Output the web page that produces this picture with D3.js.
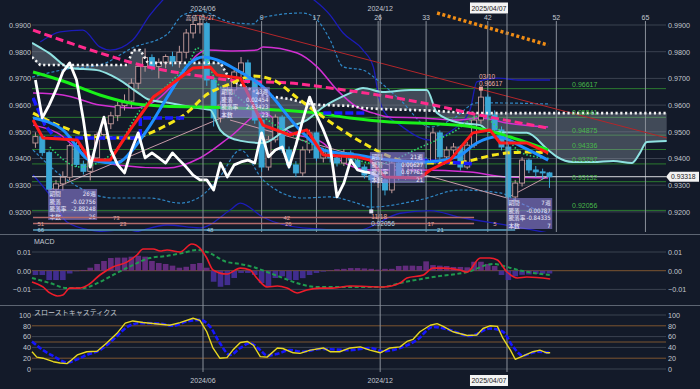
<!DOCTYPE html>
<html>
<head>
<meta charset="utf-8">
<script src="https://cdn.jsdelivr.net/npm/d3@7"></script>
<style>
  html, body { margin: 0; padding: 0; background: #131a29; }
  svg { display: block; font-family: "Noto Sans CJK JP", "DejaVu Sans", sans-serif; }
</style>
</head>
<body>
<svg id="chart" width="700" height="389"></svg>
<script>
// ---- weekly candles (index 0 = first visible week) ----
const opens  = [0.9458,0.9482,0.9422,0.9285,0.9305,0.9330,0.9448,0.9378,0.9352,0.9402,
                0.9490,0.9530,0.9560,0.9598,0.9615,0.9682,0.9745,0.9778,0.9745,0.9760,
                0.9782,0.9762,0.9798,0.9870,0.9902,0.9905,0.9694,0.9552,0.9600,0.9657,
                0.9724,0.9758,0.9694,0.9544,0.9368,0.9470,0.9555,0.9432,0.9376,0.9346,
                0.9432,0.9496,0.9402,0.9421,0.9402,0.9383,0.9421,0.9394,0.9368,0.9338,
                0.9320,0.9320,0.9282,0.9383,0.9331,0.9376,0.9387,0.9394,0.9383,0.9496,
                0.9406,0.9432,0.9443,0.9368,0.9450,0.9544,0.9630,0.9563,0.9507,0.9443,
                0.9256,0.9308,0.9394,0.9357,0.9350,0.9346];
const highs  = [0.9498,0.9490,0.9430,0.9320,0.9352,0.9455,0.9462,0.9392,0.9412,0.9498,
                0.9545,0.9575,0.9612,0.9640,0.9700,0.9758,0.9812,0.9790,0.9775,0.9790,
                0.9800,0.9822,0.9885,0.9915,0.9928,0.9912,0.9705,0.9615,0.9672,0.9740,
                0.9780,0.9770,0.9705,0.9560,0.9485,0.9565,0.9562,0.9445,0.9390,0.9445,
                0.9508,0.9502,0.9440,0.9438,0.9415,0.9435,0.9430,0.9405,0.9378,0.9350,
                0.9345,0.9330,0.9395,0.9392,0.9388,0.9402,0.9410,0.9405,0.9515,0.9505,
                0.9445,0.9458,0.9450,0.9462,0.9560,0.96617,0.9640,0.9580,0.9520,0.9455,
                0.9320,0.9405,0.9400,0.9372,0.9362,0.9350];
const lows   = [0.9440,0.9410,0.9270,0.9262,0.9280,0.9318,0.9368,0.9340,0.9318,0.9390,
                0.9470,0.9510,0.9540,0.9580,0.9590,0.9660,0.9725,0.9730,0.9700,0.9738,
                0.9745,0.9740,0.9775,0.9850,0.9868,0.9672,0.9520,0.9535,0.9585,0.9640,
                0.9705,0.9680,0.9530,0.9350,0.9355,0.9460,0.9420,0.9360,0.9330,0.9335,
                0.9420,0.9390,0.9385,0.9385,0.9370,0.9372,0.9380,0.9355,0.9325,0.92056,
                0.9290,0.9262,0.9270,0.9318,0.9320,0.9360,0.9372,0.9365,0.9378,0.9395,
                0.9392,0.9415,0.9355,0.9360,0.9440,0.9530,0.9548,0.9495,0.9430,0.9228,
                0.9240,0.9295,0.9345,0.9330,0.9322,0.9290];
const closes = [0.9482,0.9422,0.9285,0.9305,0.9330,0.9448,0.9378,0.9352,0.9402,0.9490,
                0.9530,0.9560,0.9598,0.9615,0.9682,0.9745,0.9778,0.9745,0.9760,0.9782,
                0.9762,0.9798,0.9870,0.9902,0.9905,0.9694,0.9552,0.9600,0.9657,0.9724,
                0.9758,0.9694,0.9544,0.9368,0.9470,0.9555,0.9432,0.9376,0.9346,0.9432,
                0.9496,0.9402,0.9421,0.9402,0.9383,0.9421,0.9394,0.9368,0.9338,0.9320,
                0.9320,0.9282,0.9383,0.9331,0.9376,0.9387,0.9394,0.9383,0.9496,0.9406,
                0.9432,0.9443,0.9368,0.9450,0.9544,0.9630,0.9563,0.9507,0.9443,0.9256,
                0.9308,0.9394,0.9357,0.9350,0.9346,0.93318];
const lagShift = 25;   // lagging span: close plotted 25 weeks back
const lastPrice = 0.93318;

// ---- indicator lines, [week index, value] ----
const greenMA  = [[-0.35,0.9724],[3.6,0.9694],[9.4,0.9638],[13.8,0.9608],[18.2,0.9597],[24,0.9593],[32.8,0.9585],
                  [41.1,0.957],[45.9,0.9552],[51.7,0.9537],[59,0.9529],[63.8,0.9518],[68.8,0.9484],[74.8,0.9432]];
const pinkMA   = [[-0.35,0.9881],[11.3,0.978],[15.3,0.975],[24,0.9709],[29.9,0.969],[37.1,0.9683],[43,0.9664],
                  [56.6,0.9608],[63.4,0.957],[74.8,0.9514]];
const yellowMA = [[-0.35,0.957],[4,0.9518],[9,0.9481],[13.8,0.9477],[18.6,0.9518],[22.6,0.9582],[24.5,0.963],
                  [28.4,0.9679],[31.8,0.9709],[34.7,0.9694],[38.2,0.9627],[42,0.9555],[47.8,0.9458],[53.2,0.9394],
                  [56.6,0.9383],[61.5,0.9383],[63.8,0.9394],[66.8,0.9413],[71.7,0.9424],[74.8,0.9421]];
const redLine  = [[-0.35,0.9544],[1.1,0.9477],[6.1,0.9469],[8,0.9394],[10.9,0.9394],[13.8,0.9507],[17.2,0.963],
                  [20.1,0.9683],[23,0.9739],[25.5,0.9743],[26.5,0.9713],[29.9,0.9701],[33.2,0.9525],[37.1,0.9488],
                  [39.6,0.9507],[42,0.9413],[46.9,0.9406],[48.8,0.9394],[51,0.9331],[56.1,0.9327],[57.6,0.9357],
                  [60.5,0.9394],[63.8,0.9496],[66.3,0.9507],[67.8,0.9458],[71.7,0.9458],[74.8,0.9421]];
const blueLine = [[-0.35,0.9552],[4,0.9507],[8,0.9394],[11.9,0.9383],[13.8,0.9421],[16.3,0.9507],[19.6,0.9645],
                  [22.6,0.9758],[24.5,0.978],[26.5,0.9769],[29.4,0.9731],[33.2,0.9668],[38.6,0.9507],[42,0.9432],
                  [46.9,0.9413],[51.7,0.9394],[56.6,0.9387],[61.5,0.9406],[64.4,0.9458],[67.4,0.9481],[71.1,0.9443],
                  [74.8,0.9394]];
const baseLine = [[-0.35,0.9627],[1.4,0.9525],[2.9,0.9477],[15.3,0.9477],[15.3,0.9552],[22.1,0.9552],[22.2,null],
                  [42,0.957],[48.4,0.957],[48.5,null],[56.1,0.9394],[63.8,0.9380]];
const magUpper = [[-0.35,0.9645],[4,0.9638],[9.4,0.96],[14.2,0.9589],[17.7,0.9619],[20.7,0.9694],[23.6,0.9788],
                  [25,0.9806],[28.8,0.9803],[32.3,0.9806],[33.2,0.9818],[38.2,0.9795],[41.1,0.9743],[44,0.9657],
                  [46.9,0.9593],[49.3,0.957],[51.7,0.9555],[56.6,0.9552],[61.5,0.9544],[64.9,0.9552],[68.8,0.9533],
                  [74.8,0.9518]];
const magLower = [[-0.35,0.9525],[3.2,0.9496],[6.9,0.9421],[11.9,0.9376],[19.2,0.9364],[24,0.9402],[28.4,0.9481],
                  [33.2,0.957],[37.1,0.9499],[42,0.9458],[44.4,0.9394],[48.8,0.9357],[56.1,0.9357],[63.4,0.9349],
                  [68.8,0.9331],[74.8,0.9327]];
const band2Up  = [[0.7,0.9836],[3.6,0.9874],[6.9,0.9881],[9.4,0.9818],[10.9,0.9806],[14.2,0.9844],[16.7,0.9937],
                  [22.6,1.0069],[31.3,1.0106],[38.6,1.0031],[43,0.9937],[44.9,0.987],[47.8,0.9806],[49.3,0.9743],
                  [50,0.9645],[50.7,0.9582],[53.2,0.9525],[57.6,0.9469],[60.5,0.95],[63.4,0.9582],[64.4,0.9687],
                  [67.4,0.9701],[70.7,0.9694],[75.1,0.9694]];
const band2Low = [[-0.35,0.9338],[2.1,0.9263],[4.6,0.9162],[8,0.9132],[13.4,0.9121],[19.2,0.9151],[24,0.914],
                  [28.4,0.9207],[29.9,0.9233],[33.2,0.918],[39,0.914],[46.9,0.913],[53.2,0.9195],[57.6,0.9205],
                  [61.9,0.918],[68.8,0.915],[75.1,0.912]];
const band1Up  = [[-0.5,0.9705],[4.6,0.9735],[9.4,0.975],[14.2,0.9815],[19.2,0.9865],[21.5,0.9937],[24,0.9952],
                  [28.4,0.9911],[31.8,0.9904],[32.8,0.9926],[39,0.9945],[41.1,0.9919],[43,0.9844],[44.9,0.9743],
                  [47.8,0.9731],[49.9,0.9694],[53.2,0.962],[57.6,0.9518],[61,0.955],[64.4,0.9608],[67.4,0.9608],
                  [75.1,0.9604]];
const band1Low = [[-0.35,0.9432],[4.6,0.932],[11.3,0.9252],[16.7,0.9252],[21.1,0.9233],[24,0.9256],[26.9,0.9331],
                  [29.9,0.9432],[33.2,0.932],[39,0.9252],[43,0.9256],[46.9,0.9233],[48.8,0.9218],[56.1,0.9245],
                  [61.9,0.9282],[67.8,0.9271],[71,0.9230],[75.1,0.9190]];
const greenDots = [[2.1,0.9443],[6.5,0.9368],[11.3,0.9421],[15.3,0.9582],[19.6,0.9683],[22.6,0.9769],[23.6,0.9814],
                   [24.5,0.9795],[26.5,0.9683],[29,0.9640],[33,0.9560],[38,0.9480],[44,0.9420],[50,0.9380],
                   [56,0.9440],[61,0.9500],[65,0.9560],[68,0.9500],[71,0.9420],[75,0.9400]];

// ---- cloud: upper span (cyan) and lower span (white dotted) ----
const cloudIdx = [-0.5,0.7,2,5,9,11,13.4,14.2,15.3,16.4,19.6,22.6,25.5,27,28.4,30,33.2,37.1,39.6,42,45.9,47.8,
                  50.7,54.7,57.1,58.6,61.9,64.9,66.3,71.7,74.8,76.1,78.4,81.4,84.3,87,88.2,89.2,92.1];
const spanA    = [0.9833,0.9815,0.9795,0.9739,0.9731,0.9712,0.9675,0.966,0.964,0.9622,0.9608,0.9593,0.9582,0.9505,
                  0.9478,0.9466,0.9458,0.9518,0.9544,0.9593,0.9645,0.9664,0.9649,0.9657,0.9657,0.957,0.9533,0.9525,
                  0.9499,0.9496,0.9432,0.9406,0.9387,0.9387,0.9391,0.9383,0.9421,0.9462,0.9466];
const spanB    = [0.978,0.975,0.975,0.975,0.975,0.975,0.975,0.9806,0.9806,0.9758,0.9758,0.9758,0.9758,0.9758,
                  0.9694,0.9675,0.9636,0.9623,0.9605,0.96,0.9597,0.9589,0.9585,0.9582,0.958,0.9578,0.9572,0.957,
                  0.957,0.957,0.957,0.957,0.957,0.957,0.957,0.957,0.957,0.957,0.957];

// ---- levels, counts, dates ----
const fibLevels  = [0.96617,0.95541,0.94875,0.94336,0.93797,0.93132,0.92056];
const priceTicks = [0.99,0.98,0.97,0.96,0.95,0.94,0.93,0.92];
const countIdx   = [33,41,50,57,66,76,89];
const countText  = ["9","17","26","33","42","52","65"];
const dateIdx    = [24.45,50.3,68.8];
const dateText   = ["2024/06","2024/12","2025/04/07"];
const trendRed   = [[23.6,0.9937],[92.1,0.9477]];
const trendOrange= [[58.6,0.9945],[74.8,0.9825]];
const rangeLines = [[[2.1,0.9282],[27.4,0.9555]],[[28.4,0.9544],[68.8,0.9252]],[[68.8,0.9252],[75.1,0.9338]]];

// measurement boxes: [from idx, to idx, top price], rows of label/value
const boxSpan = [[1.85,9.0,0.9286],[26.9,34.2,0.9668],[48.8,56.8,0.9424],[68.8,75.4,0.9252]];
const boxRows = [
  [["期間","26週"],["騰落","-0.02756"],["騰落率","-2.88248"],["本数","26"]],
  [["期間","23週"],["騰落","0.02454"],["騰落率","2.63423"],["本数","23"]],
  [["期間","21週"],["騰落","0.00627"],["騰落率","0.67761"],["本数","21"]],
  [["期間","7週"],["騰落","-0.00787"],["騰落率","-0.84335"],["本数","7"]]
];

// bottom range bars: [from idx, to idx, row], labels [idx, row, text]
const rangeBars   = [[-0.35,64,0],[-0.35,64,1],[-0.35,70,2]];
const rangeLabels = [[0.3,1,"51"],[11.3,0,"73"],[12.3,1,"23"],[36.2,0,"42"],[36.4,1,"26"],[57.2,1,"17"],
                     [0.3,2,"66"],[25,2,"48"],[58.6,2,"21"],[66.8,1,"5"]];

// ---- MACD ----
const macdLine = [[-0.5,-0.006],[1.1,-0.0087],[2.1,-0.0119],[3.2,-0.0135],[4,-0.013],[5,-0.0093],[6.5,-0.0093],
                  [7.7,-0.0076],[9.4,-0.0023],[11.3,0.002],[13.4,0.0047],[14.8,0.0084],[15.7,0.0116],[17.2,0.0116],
                  [18.2,0.0105],[19.2,0.0111],[21.1,0.01],[22.8,0.0143],[24,0.0121],[25,0.0068],[25.9,0.0004],
                  [27.9,-0.0018],[29.9,0.0014],[31.3,0.0004],[32.3,-0.0039],[33.8,-0.0087],[35.3,-0.0082],
                  [36.7,-0.0093],[38.2,-0.0119],[39.6,-0.0103],[41.5,-0.0093],[43.4,-0.0093],[45.9,-0.0082],
                  [50.7,-0.0087],[53.2,-0.0066],[54.2,-0.0039],[56.6,-0.0023],[58,0.0014],[59.5,0.0014],
                  [61.9,0.0004],[63,-0.0007],[64.9,0.0068],[66.3,0.0068],[67.4,0.0057],[68.8,-0.0007],
                  [70.3,-0.0039],[71.7,-0.0034],[75.1,-0.0044]];
const signalLine = [[-0.5,-0.0039],[2.1,-0.0066],[4.6,-0.0093],[6.9,-0.0093],[9.4,-0.006],[11.9,-0.0012],
                  [14.2,0.003],[16.7,0.0068],[19.2,0.0079],[21.5,0.0095],[23.6,0.0111],[25,0.01],[27.9,0.0047],
                  [29.9,0.0036],[31.7,0.002],[33.8,-0.0007],[36.1,-0.0039],[38.6,-0.0071],[41.1,-0.0087],
                  [45.9,-0.0087],[50.7,-0.0087],[53.2,-0.0066],[58,-0.0034],[63,-0.0007],[66.8,0.0036],
                  [68.8,0.002],[71.1,-0.0002],[75.1,-0.0023]];
const macdHist = [-0.0023,-0.0023,-0.0050,-0.0050,-0.0050,-0.0015,-0.0003,0.0004,0.0016,0.0036,
                  0.0052,0.0068,0.0070,0.0070,0.0075,0.0080,0.0075,0.0052,0.0041,0.0036,
                  0.0027,0.0016,0.0021,0.0036,0.0041,0.0016,-0.0059,-0.0086,-0.0077,-0.0039,
                  -0.0012,-0.0012,-0.0023,-0.0066,-0.0087,-0.0039,-0.0030,-0.0050,-0.0050,-0.0040,
                  -0.0023,-0.0012,-0.0005,0.0003,0.0008,0.0010,0.0014,0.0014,0.0012,0.0010,
                  0.0006,0.0010,0.0010,0.0025,0.0027,0.0027,0.0025,0.0050,0.0030,0.0027,
                  0.0025,0.0020,0.0020,0.0018,0.0048,0.0048,0.0036,0.0025,-0.0023,-0.0050,
                  -0.0030,-0.0022,-0.0020,-0.0018,-0.0016,-0.0015];
const macdTicks = [0.01,0,-0.01];

// ---- slow stochastics ----
const stochK = [[-0.5,32],[0.2,22],[1.1,20],[2.6,13.5],[3.6,11],[4.6,10],[5.3,17],[6.1,26],[7.5,32],[9,33],
                [10.4,48],[11.9,66],[13.1,85],[14.2,89],[15.7,86],[18.2,83],[19.6,81],[21.1,86],[23,94],[24,90],
                [25,69],[25.9,39],[26.9,20],[27.95,21],[28.8,35],[29.9,49],[30.9,51],[31.8,44],[32.8,23],
                [33.8,22],[35.3,39],[36.1,38],[37.6,30],[38.6,29],[40.1,35],[42,39],[43,32],[44.4,32],[45.9,39],
                [47.4,41],[48.8,35],[50.3,30],[51.7,39],[53.2,41],[54.2,51],[55.1,55],[56.1,69],[57.6,81],
                [58.6,84],[59.5,79],[60.9,69],[63,62],[64.4,63],[65.3,75],[66.3,80],[67.4,79],[68.2,57],
                [69.3,35],[70,18],[71.1,24],[72.6,32],[73.6,35],[74.6,30],[75.1,30]];
const stochD = [[-0.5,51],[1.1,35],[2.6,24],[4.6,12],[6.1,18],[7.5,26],[9.4,35],[11.3,54],[13.4,78],[15.3,85],
                [18.2,84],[20.1,80],[22.1,88],[24,91],[25.5,78],[26.9,48],[28.4,26],[29.9,39],[31.3,48],
                [32.8,35],[33.8,25],[35.3,28],[37.1,35],[39,32],[41.5,37],[45.9,35],[48.8,39],[50.7,33],
                [53.2,39],[55.7,54],[58,78],[60.5,72],[63.4,61],[66.3,75],[68.2,69],[69.7,41],[71.1,25],
                [73.2,32],[75.1,30]];
const stochTicks = [100,80,60,40,20,0];

// ---- scales ----
const W = 700, left = 32, right = 666;
const x  = d3.scaleLinear().domain([-0.5, 92]).range([left, right]);
const y  = d3.scaleLinear().domain([0.92, 0.99]).range([211.9, 25]);
const yM = d3.scaleLinear().domain([-0.01, 0.01]).range([289.4, 252]);
const yS = d3.scaleLinear().domain([0, 100]).range([369, 315]);

const svg = d3.select('#chart');
const grid = '#3b4250', txt = '#c2c8d0', brown = '#7d5530';
const numFont = '"Liberation Sans", Arial, sans-serif';
const narrowFont = '"Liberation Sans Narrow", "DejaVu Sans Condensed", sans-serif';

svg.append('rect').attr('width', W).attr('height', 389).attr('fill', '#131a29');

const defs = svg.append('defs');
defs.append('clipPath').attr('id', 'mainClip').append('rect')
    .attr('x', left).attr('y', 0).attr('width', right - left + 2).attr('height', 232);

// ---- axes ----
function sideAxes(scale, ticks, fmt) {
    svg.append('g').attr('transform', `translate(${left - 1},0)`)
        .call(d3.axisLeft(scale).tickValues(ticks).tickSize(0).tickPadding(0).tickFormat(fmt))
        .call(g => g.select('.domain').remove());
    svg.append('g').attr('transform', `translate(${right + 2},0)`)
        .call(d3.axisRight(scale).tickValues(ticks).tickSize(0).tickPadding(0).tickFormat(fmt))
        .call(g => g.select('.domain').remove());
}
sideAxes(y, priceTicks, d3.format('.4f'));
sideAxes(yM, macdTicks, d3.format('.2f'));
sideAxes(yS, stochTicks, d3.format('d'));
svg.selectAll('.tick text').attr('fill', txt).attr('font-size', 7.2).attr('font-family', numFont);

// ---- grid lines ----
svg.append('g').selectAll('line').data(priceTicks).join('line')
    .attr('x1', left).attr('x2', right).attr('y1', d => y(d)).attr('y2', d => y(d))
    .attr('stroke', grid).attr('stroke-width', 1);
svg.append('g').selectAll('line').data(macdTicks).join('line')
    .attr('x1', left).attr('x2', right).attr('y1', d => yM(d)).attr('y2', d => yM(d))
    .attr('stroke', d => d === 0 ? brown : grid).attr('stroke-width', 1);
svg.append('g').selectAll('line').data(stochTicks).join('line')
    .attr('x1', left).attr('x2', right).attr('y1', d => yS(d)).attr('y2', d => yS(d))
    .attr('stroke', d => (d === 80 || d === 20) ? brown : grid).attr('stroke-width', 1);
svg.append('line').attr('x1', left).attr('x2', right).attr('y1', yS(50)).attr('y2', yS(50))
    .attr('stroke', brown).attr('stroke-width', 1);

// panel separators
[234.5, 305.5].forEach(v => svg.append('line').attr('x1', 0).attr('x2', W).attr('y1', v).attr('y2', v)
    .attr('stroke', '#5d6572').attr('stroke-width', 1.2));

// ---- main panel ----
const main = svg.append('g').attr('clip-path', 'url(#mainClip)');
const line = (ys, curve) => d3.line().defined(d => d[1] != null)
    .x(d => x(d[0])).y(d => ys(d[1])).curve(curve || d3.curveMonotoneX);

function path(g, data, ys, color, width, dash, curve) {
    return g.append('path').datum(data).attr('d', line(ys, curve))
        .attr('fill', 'none').attr('stroke', color).attr('stroke-width', width)
        .attr('stroke-dasharray', dash || null).attr('stroke-linejoin', 'round');
}

// fib levels
main.append('g').selectAll('line').data(fibLevels).join('line')
    .attr('x1', left).attr('x2', right).attr('y1', d => y(d)).attr('y2', d => y(d))
    .attr('stroke', '#2b7a2f').attr('stroke-width', 1);

// cloud
const cloud = cloudIdx.map((d, i) => [d, spanA[i], spanB[i]]);
main.append('path').datum(cloud)
    .attr('d', d3.area().x(d => x(d[0])).y0(d => y(d[1])).y1(d => y(d[2])).curve(d3.curveMonotoneX))
    .attr('fill', '#8e98a6').attr('opacity', 0.38);

// count lines (top) and date lines
main.append('g').selectAll('line').data(countIdx).join('line')
    .attr('x1', d => x(d)).attr('x2', d => x(d)).attr('y1', 21).attr('y2', 232)
    .attr('stroke', '#8a909a').attr('stroke-width', 1);
svg.append('g').selectAll('line').data(dateIdx).join('line')
    .attr('x1', d => x(d)).attr('x2', d => x(d)).attr('y1', 14).attr('y2', 372)
    .attr('stroke', '#8a909a').attr('stroke-width', 1);

// bands
path(main, band2Up, y, '#1c1cb8', 1.3);
path(main, band2Low, y, '#1c1cb8', 1.3);
path(main, band1Up, y, '#2f86c4', 1.2, '3,2');
path(main, band1Low, y, '#2f86c4', 1.2, '3,2');
path(main, magUpper, y, '#d22fd2', 1.5);
path(main, magLower, y, '#d22fd2', 1.5);

// trend / range lines
path(main, trendRed, y, '#b3262a', 1, null, d3.curveLinear);
rangeLines.forEach(r => path(main, r, y, '#c79aa8', 1, null, d3.curveLinear));

// current price line
main.append('line').attr('x1', left).attr('x2', right).attr('y1', y(lastPrice)).attr('y2', y(lastPrice))
    .attr('stroke', '#d8dadf').attr('stroke-width', 1);

// candles
const idx = closes.map((d, i) => i);
const cg = main.append('g');
cg.selectAll('line').data(idx).join('line')
    .attr('x1', i => x(i)).attr('x2', i => x(i)).attr('y1', i => y(highs[i])).attr('y2', i => y(lows[i]))
    .attr('stroke', i => closes[i] >= opens[i] ? '#c39c9c' : '#3aa7d6').attr('stroke-width', 1);
cg.selectAll('rect').data(idx).join('rect')
    .attr('x', i => x(i) - 2.5).attr('width', 5)
    .attr('y', i => y(Math.max(opens[i], closes[i])))
    .attr('height', i => Math.max(1, Math.abs(y(opens[i]) - y(closes[i]))))
    .attr('fill', i => closes[i] >= opens[i] ? '#131a29' : '#3aa7d6')
    .attr('stroke', i => closes[i] >= opens[i] ? '#c39c9c' : '#3aa7d6').attr('stroke-width', 0.9);

// cloud spans
path(main, cloudIdx.map((d, i) => [d, spanA[i]]), y, '#8fe2e2', 2);
path(main, cloudIdx.map((d, i) => [d, spanB[i]]), y, '#f2f2f2', 2.6, '2.2,2.6', d3.curveLinear);

// thick lines
path(main, greenDots, y, '#2dd36f', 1.6, '1.5,2');
path(main, greenMA, y, '#19f019', 3);
path(main, pinkMA, y, '#ff2a8c', 3, '8,4');
path(main, yellowMA, y, '#f5e61a', 3, '7,4');
path(main, baseLine, y, '#1a1aff', 3.5, '8,3', d3.curveLinear);
path(main, blueLine, y, '#1e8fff', 3);
path(main, redLine, y, '#ff1a1a', 3, null, d3.curveLinear);
path(main, closes.map((c, i) => [i - lagShift, c]).filter(d => d[0] >= 0), y, '#ffffff', 2.8, null, d3.curveLinear);
path(main, trendOrange, y, '#f08c14', 3.5, '3,2.5', d3.curveLinear);

// fib labels
main.append('g').selectAll('text').data(fibLevels).join('text')
    .attr('x', x(78.3)).attr('y', d => y(d) - 2).text(d => d3.format('.5f')(d))
    .attr('fill', '#48b84a').attr('font-size', 7).attr('font-family', numFont);

// measurement boxes
boxSpan.forEach((b, k) => {
    const g = main.append('g');
    const x0 = x(b[0]), x1 = x(b[1]), y0 = y(b[2]);
    g.append('rect').attr('x', x0).attr('y', y0).attr('width', x1 - x0).attr('height', 31)
        .attr('fill', '#8a7ed6').attr('opacity', 0.62);
    boxRows[k].forEach((r, j) => {
        g.append('text').attr('x', x0 + 1.5).attr('y', y0 + 7 + j * 7.6).text(r[0])
            .attr('fill', '#eef').attr('font-size', 5.6);
        g.append('text').attr('x', x1 - 1.5).attr('y', y0 + 7 + j * 7.6).text(r[1])
            .attr('text-anchor', 'end').attr('fill', '#eef').attr('font-size', 6)
            .attr('font-family', narrowFont);
    });
});

// bottom range bars
const rowY = [217.5, 223.5, 230];
const rowColor = ['#b36a6a', '#b36a6a', '#5aa3c2'];
main.append('g').selectAll('line').data(rangeBars).join('line')
    .attr('x1', d => x(d[0])).attr('x2', d => x(d[1])).attr('y1', d => rowY[d[2]]).attr('y2', d => rowY[d[2]])
    .attr('stroke', d => rowColor[d[2]]).attr('stroke-width', 1.6);
main.append('g').selectAll('text').data(rangeLabels).join('text')
    .attr('x', d => x(d[0])).attr('y', d => rowY[d[1]] + 2.2).text(d => d[2])
    .attr('fill', d => d[1] === 2 ? '#a9d4e6' : '#e3a7a0').attr('font-size', 6)
    .attr('font-family', numFont);

// high / low markers
const ann = main.append('g').attr('font-family', numFont).attr('font-size', 6.5);
ann.append('rect').attr('x', x(65) - 2).attr('y', y(highs[65]) - 2).attr('width', 4).attr('height', 4).attr('fill', '#e9a49a');
ann.append('text').attr('x', x(65) - 2).attr('y', y(highs[65]) - 10).text('03/10').attr('fill', '#e9b0a6');
ann.append('text').attr('x', x(65) - 2).attr('y', y(highs[65]) - 3).text(d3.format('.5f')(highs[65])).attr('fill', '#e9b0a6');
ann.append('rect').attr('x', x(49) - 2).attr('y', y(lows[49]) - 1).attr('width', 4).attr('height', 4).attr('fill', '#dde');
ann.append('text').attr('x', x(49)).attr('y', y(lows[49]) + 8.5).text('11/18').attr('fill', '#e3a7a0');
ann.append('text').attr('x', x(49)).attr('y', y(lows[49]) + 15.5).text(d3.format('.5f')(lows[49])).attr('fill', '#a9d4e6');
ann.append('text').attr('x', x(24)).attr('y', 19.5).text('高値 05/27').attr('text-anchor', 'middle')
    .attr('fill', '#e8c8c8').attr('font-size', 6).attr('font-family', '"Noto Sans CJK JP", sans-serif');

// ---- top/bottom labels ----
svg.append('g').selectAll('text').data(countIdx).join('text')
    .attr('x', d => x(d)).attr('y', 19.5).text((d, i) => countText[i]).attr('text-anchor', 'middle')
    .attr('fill', txt).attr('font-size', 7).attr('font-family', numFont);
function dateLabel(i, yy) {
    const t = dateText[i], cx = x(dateIdx[i]);
    if (i === 2) {
        svg.append('rect').attr('x', cx - 37).attr('y', yy - 8).attr('width', 38).attr('height', 11).attr('fill', '#f4f4f4');
        svg.append('text').attr('x', cx - 18).attr('y', yy).text(t).attr('text-anchor', 'middle')
            .attr('fill', '#222').attr('font-size', 7).attr('font-family', numFont);
    } else {
        svg.append('text').attr('x', cx).attr('y', yy).text(t).attr('text-anchor', 'middle')
            .attr('fill', txt).attr('font-size', 7).attr('font-family', numFont);
    }
}
dateText.forEach((t, i) => { dateLabel(i, 10.5); dateLabel(i, 383); });

// last price tag
const ly = y(lastPrice);
svg.append('path').attr('d', `M${right} ${ly} L${right + 4} ${ly - 5} L${W - 1} ${ly - 5} L${W - 1} ${ly + 5} L${right + 4} ${ly + 5} Z`)
    .attr('fill', '#f2f2f2');
svg.append('text').attr('x', right + 5).attr('y', ly + 2.5).text(d3.format('.5f')(lastPrice))
    .attr('fill', '#222').attr('font-size', 6.8).attr('font-family', numFont);

// ---- MACD panel ----
const mg = svg.append('g');
mg.selectAll('rect').data(idx).join('rect')
    .attr('x', i => x(i) - 2.8).attr('width', 5.6)
    .attr('y', i => Math.min(yM(0), yM(macdHist[i])))
    .attr('height', i => Math.abs(yM(macdHist[i]) - yM(0)))
    .attr('fill', i => macdHist[i] >= 0 ? '#6b2f86' : '#47309a').attr('opacity', 0.9);
path(mg, signalLine, yM, '#1f9a4e', 2, '4,2.5');
path(mg, macdLine, yM, '#ee1c2a', 1.6);
svg.append('text').attr('x', 34).attr('y', 244).text('MACD').attr('fill', txt).attr('font-size', 7)
    .attr('font-family', numFont);

// ---- stochastics panel ----
const sg = svg.append('g');
path(sg, stochD, yS, '#1616ff', 2.6, '5,2');
path(sg, stochK, yS, '#e8d820', 1.4, null, d3.curveLinear);
svg.append('text').attr('x', 34).attr('y', 315).text('スローストキャスティクス').attr('fill', txt).attr('font-size', 7);
</script>
</body>
</html>
